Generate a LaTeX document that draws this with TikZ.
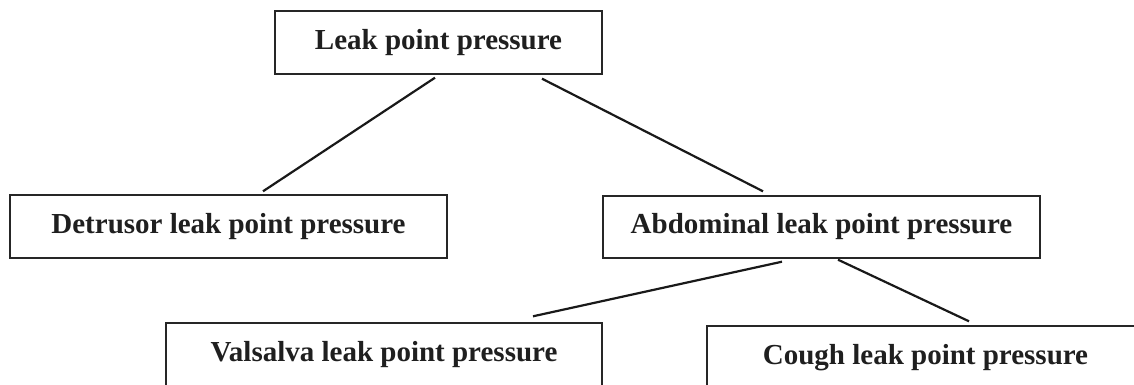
\documentclass[tikz,border=0pt]{standalone}
\usepackage{fontspec}
\setmainfont{Liberation Serif}
\begin{document}
\begin{tikzpicture}[x=1pt,y=-1pt,
  box/.style={draw=black!85,line width=1.4pt,minimum height=63pt,inner sep=0pt,
    font=\fontsize{29}{34}\selectfont\bfseries,text=black!88},
  link/.style={draw=black!90,line width=2.2pt}]
\useasboundingbox (0,0) rectangle (1134,385);
\node[box,minimum width=327pt] (top) at (438.5,42.5) {Leak point pressure};
\node[box,minimum width=437pt] (det) at (228.5,226.5) {Detrusor leak point pressure};
\node[box,minimum width=437pt,minimum height=62pt] (abd) at (821.5,227) {Abdominal leak point pressure};
\node[box,minimum width=436pt] (val) at (384,354.5) {Valsalva leak point pressure};
\node[box,minimum width=437pt] (cou) at (925.5,357.5) {Cough leak point pressure};
\draw[link] ([xshift=-3.5pt,yshift=-3pt]top.south) -- ([xshift=34.5pt,yshift=3pt]det.north);
\draw[link] ([xshift=103.5pt,yshift=-4pt]top.south) -- ([xshift=-58.5pt,yshift=4pt]abd.north);
\draw[link] ([xshift=-39.5pt,yshift=-3pt]abd.south) -- ([xshift=149pt,yshift=6pt]val.north);
\draw[link] ([xshift=16.5pt,yshift=-1pt]abd.south) -- ([xshift=43.5pt,yshift=4pt]cou.north);
\end{tikzpicture}
\end{document}
